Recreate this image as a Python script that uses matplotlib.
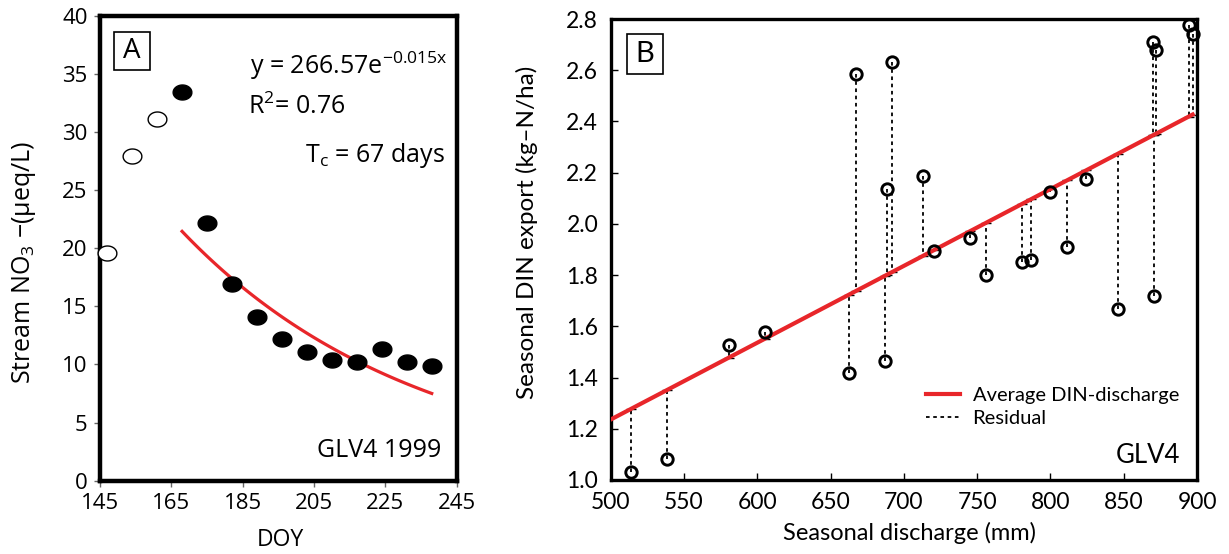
import numpy as np
import matplotlib.pyplot as plt
from matplotlib.lines import Line2D
from matplotlib.patches import Rectangle

plt.rcParams['font.family'] = ['Open Sans', 'DejaVu Sans']
plt.rcParams['mathtext.fontset'] = 'custom'
plt.rcParams['mathtext.rm'] = 'Open Sans'
plt.rcParams['mathtext.it'] = 'Open Sans:italic'

# Panel A: stream NO3 at GLV4 through the 1999 season
open_doy = [147, 154, 161]
open_no3 = [19.6, 27.9, 31.1]
fill_doy = [168, 175, 182, 189, 196, 203, 210, 217, 224, 231, 238]
fill_no3 = [33.4, 22.2, 16.9, 14.1, 12.2, 11.1, 10.4, 10.2, 11.3, 10.2, 9.9]
fit_a, fit_k = 266.57, 0.015
fit_start, fit_end = 168, 238

# Panel B: seasonal DIN export against discharge
discharge = [513.6, 538.4, 580.5, 605.0, 662.5, 667.3, 686.9, 688.7, 692.1,
             713.2, 720.3, 745.0, 756.0, 780.7, 786.6, 799.8, 811.2, 824.4,
             846.2, 869.8, 872.3, 870.7, 894.2, 896.9]
din_export = [1.032, 1.081, 1.527, 1.577, 1.417, 2.585, 1.465, 2.137, 2.633,
              2.188, 1.895, 1.944, 1.800, 1.850, 1.859, 2.123, 1.909, 2.174,
              1.668, 2.710, 2.680, 1.717, 2.775, 2.740]
lin_intercept, lin_slope = -0.264, 0.003
lin_start, lin_end = 500, 897

red = '#e8262a'

fig = plt.figure(figsize=(12.29, 5.54), dpi=100)

# ---------------- A ----------------
axA = fig.add_axes([0.0814, 0.1323, 0.2902, 0.8394])
ell = np.linspace(0, 2 * np.pi, 60)
egg = np.column_stack([np.cos(ell), 0.8 * np.sin(ell)])

axA.plot(open_doy, open_no3, linestyle='none', marker=egg, ms=13.5,
         mfc='white', mec='black', mew=1.0, zorder=3, clip_on=False)
axA.plot(fill_doy, fill_no3, linestyle='none', marker=egg, ms=13.5,
         mfc='black', mec='black', zorder=3)
xx = np.linspace(fit_start, fit_end, 100)
axA.plot(xx, fit_a * np.exp(-fit_k * xx), color=red, lw=2.3, zorder=2)

axA.set_xlim(145, 245)
axA.set_ylim(0, 40)
axA.set_xticks(range(145, 246, 20))
axA.set_yticks(range(0, 41, 5))
for s in axA.spines.values():
    s.set_linewidth(3.2)
axA.tick_params(direction='out', length=4, width=1, color='0.4',
                labelsize=16, pad=5)

axA.text(0.505, -0.128, 'DOY', transform=axA.transAxes, ha='center',
         va='center', fontsize=16.5)
axA.text(-0.213, 0.47, r'Stream NO$_\mathrm{3}$ $-$(µeq/L)',
         transform=axA.transAxes, ha='center', va='center', rotation=90,
         fontsize=18)

axA.text(187, 35.0, r'y = 266.57e$^{\mathrm{-0.015x}}$', fontsize=18,
         ha='left', va='baseline')
axA.text(186.5, 31.55, r'R$^\mathrm{2}$= 0.76', fontsize=18,
         ha='left', va='baseline')
axA.text(241.8, 27.45, r'T$_\mathrm{c}$ = 67 days', fontsize=18,
         ha='right', va='baseline')
axA.text(240.6, 2.03, 'GLV4 1999', fontsize=18, ha='right', va='baseline')

axA.add_patch(Rectangle((0.038, 0.884), 0.101, 0.081, transform=axA.transAxes,
                        fill=False, ec='black', lw=1.2))
axA.text(0.0885, 0.9245, 'A', transform=axA.transAxes, ha='center',
         va='center', fontsize=20)

# ---------------- B ----------------
narrow = ['Lato', 'DejaVu Sans']
axB = fig.add_axes([0.4969, 0.1336, 0.4771, 0.8321])

q = np.array(discharge)
din = np.array(din_export)
din_fit = lin_intercept + lin_slope * q

axB.vlines(q, din, din_fit, colors='black', linestyles=(0, (2, 2)),
           lw=1.3, zorder=2)
axB.plot(q, din_fit, linestyle='none', marker='_', ms=7, mew=1.0,
         color='black', zorder=2)
qq = np.array([lin_start, lin_end])
axB.plot(qq, lin_intercept + lin_slope * qq, color=red, lw=3.0, zorder=3)
axB.plot(q, din, linestyle='none', marker='o', ms=8.2, mfc='none',
         mec='black', mew=2.1, zorder=4, clip_on=False)

axB.set_xlim(500, 900)
axB.set_ylim(1.0, 2.8)
axB.set_xticks(range(500, 901, 50))
axB.set_yticks(np.arange(1.0, 2.81, 0.2))
axB.set_yticklabels([f'{v:.1f}' for v in np.arange(1.0, 2.81, 0.2)])
for s in axB.spines.values():
    s.set_linewidth(2.4)
axB.tick_params(direction='in', length=5, width=1, labelsize=16.5, pad=9)
for lab in axB.get_xticklabels() + axB.get_yticklabels():
    lab.set_family(narrow)

axB.text(0.509, -0.115, 'Seasonal discharge (mm)', transform=axB.transAxes,
         ha='center', va='center', fontsize=17, family=narrow)
axB.text(-0.143, 0.538, 'Seasonal DIN export (kg\u2013N/ha)',
         transform=axB.transAxes, ha='center', va='center', rotation=90,
         fontsize=17.5, family=narrow)
axB.text(888.3, 1.065, 'GLV4', fontsize=18.5, ha='right', va='baseline',
         family=narrow)

axB.add_patch(Rectangle((0.0273, 0.8807), 0.0614, 0.0868,
                        transform=axB.transAxes, fill=False, ec='black',
                        lw=1.2))
axB.text(0.058, 0.924, 'B', transform=axB.transAxes, ha='center',
         va='center', fontsize=21, family=narrow)

handles = [Line2D([], [], color=red, lw=3.0),
           Line2D([], [], color='black', lw=1.3, linestyle=(0, (2, 2)))]
axB.legend(handles, ['Average DIN-discharge', 'Residual'],
           loc='lower right', bbox_to_anchor=(1.0, 0.075), frameon=False,
           prop={'family': narrow, 'size': 14.5}, handlelength=1.7,
           handletextpad=0.6, labelspacing=0.3)

fig.savefig('out.png', dpi=100)
